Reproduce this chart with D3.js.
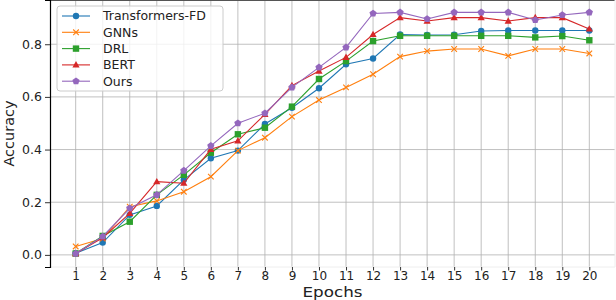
<!DOCTYPE html>
<html>
<head>
<meta charset="utf-8">
<script src="https://cdn.jsdelivr.net/npm/d3@7"></script>
<style>
  body { margin: 0; background: #fff; }
  svg { display: block; font-family: 'DejaVu Sans', sans-serif; }
</style>
</head>
<body>
<div id="chart"></div>
<script>
const epochs = d3.range(1, 21);

const transformersFD = [0.006, 0.047, 0.152, 0.186, 0.285, 0.367, 0.396, 0.497, 0.559, 0.633,
  0.724, 0.746, 0.837, 0.835, 0.836, 0.850, 0.852, 0.852, 0.852, 0.852];
const gnns = [0.032, 0.062, 0.183, 0.205, 0.240, 0.297, 0.396, 0.445, 0.525, 0.588,
  0.636, 0.686, 0.753, 0.774, 0.782, 0.782, 0.756, 0.782, 0.782, 0.765];
const drl = [0.005, 0.072, 0.126, 0.228, 0.304, 0.388, 0.458, 0.483, 0.563, 0.668,
  0.736, 0.812, 0.832, 0.832, 0.832, 0.832, 0.832, 0.826, 0.831, 0.815];
const bert = [0.005, 0.065, 0.158, 0.278, 0.272, 0.401, 0.433, 0.534, 0.643, 0.698,
  0.750, 0.837, 0.901, 0.888, 0.901, 0.901, 0.888, 0.901, 0.901, 0.858];
const ours = [0.005, 0.070, 0.177, 0.228, 0.320, 0.414, 0.500, 0.538, 0.636, 0.712,
  0.788, 0.917, 0.921, 0.896, 0.921, 0.921, 0.921, 0.892, 0.911, 0.921];

const seriesNames = ['Transformers-FD', 'GNNs', 'DRL', 'BERT', 'Ours'];
const seriesValues = [transformersFD, gnns, drl, bert, ours];
const colors = ['#1f77b4', '#ff7f0e', '#2ca02c', '#d62728', '#9467bd'];
const markers = ['circle', 'cross', 'square', 'triangle', 'pentagon'];
const yTicks = [0.0, 0.2, 0.4, 0.6, 0.8];

const W = 616, H = 300;
const margin = { top: 0, right: 1, bottom: 33, left: 50 };
const width = W - margin.left - margin.right;
const height = H - margin.top - margin.bottom;

const svg = d3.select('#chart').append('svg')
  .attr('width', W).attr('height', H);

const g = svg.append('g')
  .attr('transform', `translate(${margin.left},${margin.top})`);

const x = d3.scaleLinear().domain([0.05, 20.95]).range([0, width]);
const y = d3.scaleLinear().domain([-0.046, 0.968]).range([height, 0]);

// grid
g.append('g').selectAll('line').data(epochs).join('line')
  .attr('x1', d => x(d)).attr('x2', d => x(d))
  .attr('y1', 0).attr('y2', height)
  .attr('stroke', '#b0b0b0').attr('stroke-width', 0.8);
g.append('g').selectAll('line').data(yTicks).join('line')
  .attr('x1', 0).attr('x2', width)
  .attr('y1', d => y(d)).attr('y2', d => y(d))
  .attr('stroke', '#b0b0b0').attr('stroke-width', 0.8);

// spines
g.append('line').attr('x1', 0).attr('x2', width).attr('y1', 0.5).attr('y2', 0.5)
  .attr('stroke', '#555').attr('stroke-width', 1);
g.append('line').attr('x1', 0).attr('x2', width).attr('y1', height).attr('y2', height)
  .attr('stroke', '#eee').attr('stroke-width', 1);
g.append('line').attr('x1', width).attr('x2', width).attr('y1', 0).attr('y2', height)
  .attr('stroke', '#eee').attr('stroke-width', 1);

// axes
const xAxis = g.append('g')
  .attr('transform', `translate(0,${height})`)
  .call(d3.axisBottom(x).tickValues(epochs).tickFormat(d3.format('d')).tickSize(3.5).tickPadding(1));
const yAxis = g.append('g')
  .call(d3.axisLeft(y).tickValues(yTicks).tickFormat(d3.format('.1f')).tickSize(5).tickPadding(3));
xAxis.select('.domain').remove();
yAxis.select('.domain').attr('stroke', '#000').attr('stroke-width', 1.2);
[xAxis, yAxis].forEach(a => {
  a.selectAll('text').attr('font-size', 12.5).attr('fill', '#222')
    .attr('font-family', 'DejaVu Sans, sans-serif');
  a.selectAll('.tick line').attr('stroke', '#333');
});
xAxis.selectAll('text').attr('font-size', 12);

svg.append('text')
  .attr('x', margin.left + x(10.5)).attr('y', 296.5)
  .attr('text-anchor', 'middle').attr('font-size', 14).attr('fill', '#222')
  .attr('textLength', 60).attr('lengthAdjust', 'spacingAndGlyphs')
  .text('Epochs');
svg.append('text')
  .attr('transform', `translate(14,${margin.top + height / 2}) rotate(-90)`)
  .attr('text-anchor', 'middle').attr('font-size', 14.5).attr('fill', '#222')
  .text('Accuracy');

function pentagon(r) {
  const pts = d3.range(5).map(i => {
    const a = -Math.PI / 2 + i * 2 * Math.PI / 5;
    return [r * Math.cos(a), r * Math.sin(a)];
  });
  return 'M' + pts.map(p => p.join(',')).join('L') + 'Z';
}

function drawMarker(sel, type, color) {
  if (type === 'circle') {
    sel.append('circle').attr('r', 3.2).attr('fill', color);
  } else if (type === 'square') {
    sel.append('rect').attr('x', -3.2).attr('y', -3.2).attr('width', 6.4).attr('height', 6.4).attr('fill', color);
  } else if (type === 'triangle') {
    sel.append('path').attr('d', 'M0,-3.8L3.6,2.6L-3.6,2.6Z').attr('fill', color);
  } else if (type === 'cross') {
    sel.append('path').attr('d', 'M-2.8,-2.8L2.8,2.8M-2.8,2.8L2.8,-2.8')
      .attr('stroke', color).attr('stroke-width', 1.1).attr('fill', 'none');
  } else {
    sel.append('path').attr('d', pentagon(3.8)).attr('fill', color);
  }
}

const line = d3.line().x((d, i) => x(epochs[i])).y(d => y(d));

seriesValues.forEach((vals, si) => {
  g.append('path').datum(vals)
    .attr('d', line).attr('fill', 'none')
    .attr('stroke', colors[si]).attr('stroke-width', 1.1);
  g.append('g').selectAll('g').data(vals).join('g')
    .attr('transform', (d, i) => `translate(${x(epochs[i])},${y(d)})`)
    .each(function() { drawMarker(d3.select(this), markers[si], colors[si]); });
});

// legend
const lg = svg.append('g').attr('transform', 'translate(57,6)');
lg.append('rect').attr('x', 0).attr('y', 0).attr('width', 166).attr('height', 85).attr('rx', 3)
  .attr('fill', '#fff').attr('fill-opacity', 0.8).attr('stroke', '#ccc');
seriesNames.forEach((name, i) => {
  const row = lg.append('g').attr('transform', `translate(0,${10 + i * 16.3})`);
  row.append('line').attr('x1', 5).attr('x2', 33).attr('stroke', colors[i]).attr('stroke-width', 1.1);
  drawMarker(row.append('g').attr('transform', 'translate(19,0)'), markers[i], colors[i]);
  row.append('text').attr('x', 46).attr('dy', '0.35em').attr('font-size', 12.5).attr('fill', '#222').text(name);
});
</script>
</body>
</html>
